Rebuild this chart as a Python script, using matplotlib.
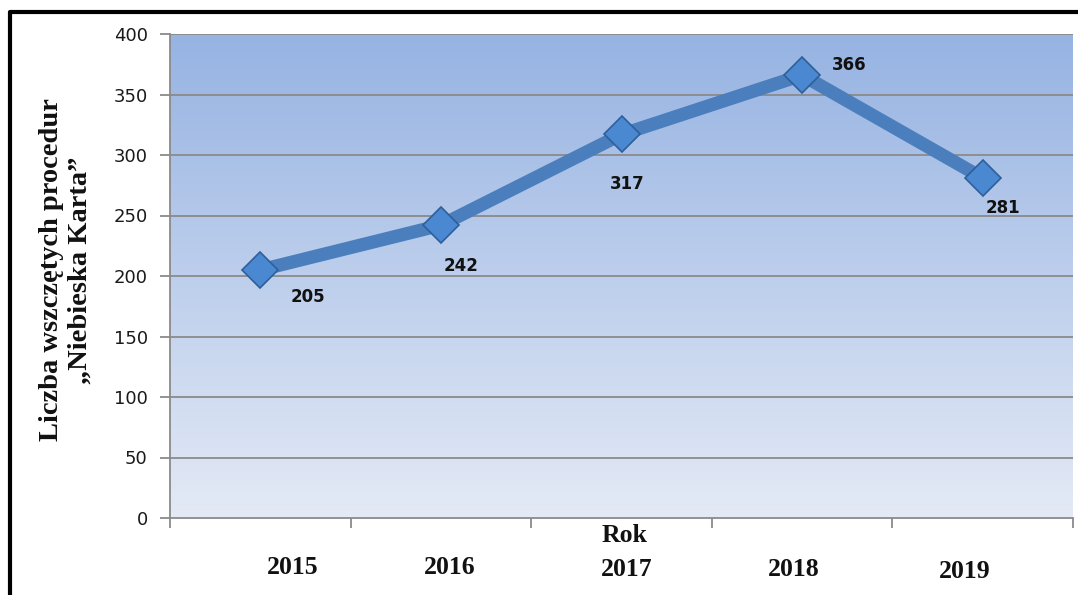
import numpy as np
import matplotlib
matplotlib.use("Agg")
import matplotlib.pyplot as plt
from matplotlib.lines import Line2D
from matplotlib.colors import LinearSegmentedColormap

years = ["2015", "2016", "2017", "2018", "2019"]
values = [205, 242, 317, 366, 281]
y_ticks = [0, 50, 100, 150, 200, 250, 300, 350, 400]
y_label = "Liczba wszczętych procedur\n„Niebieska Karta”"
x_label = "Rok"

# label offsets in pixels (style)
val_offsets = [(48, -27), (20, -41), (6, -50), (47, 10), (20, -30)]
year_offsets = [(32, 0), (9, 0), (5, -2), (-8, -2), (-18, -4)]

W, H, DPI = 1078, 595, 100
fig = plt.figure(figsize=(W / DPI, H / DPI), dpi=DPI)
fig.patch.set_facecolor("white")

L, R, T, B = 170, 1073, 34, 518
ax = fig.add_axes([L / W, 1 - B / H, (R - L) / W, (B - T) / H])

x = np.arange(len(years))
ax.set_xlim(-0.5, len(years) - 0.5)
ax.set_ylim(0, 400)

# gradient background
cmap = LinearSegmentedColormap.from_list("bg", ["#e4eaf6", "#96b3e2"])
grad = np.linspace(0, 1, 256).reshape(-1, 1)
ax.imshow(grad, aspect="auto", cmap=cmap, origin="lower",
          extent=[-0.5, len(years) - 0.5, 0, 400], zorder=0)

ax.set_yticks(y_ticks)
for yt in y_ticks[1:]:
    ax.axhline(yt, color="#8a8a8a", linewidth=1.3, zorder=1)

ax.plot(x, values, color="#4a7ebd", linewidth=9.5, zorder=3,
        solid_capstyle="round")
ax.plot(x, values, linestyle="none", marker="D", markersize=18,
        markerfacecolor="#4a88d2", markeredgecolor="#2f5f99",
        markeredgewidth=1.2, zorder=4)

for xi, v, (dx, dy) in zip(x, values, val_offsets):
    ax.annotate(str(v), (xi, v), xytext=(dx * 0.72, dy * 0.72),
                textcoords="offset points", ha="center", va="center",
                fontsize=12, fontweight="bold", color="#111111",
                family="DejaVu Sans", zorder=5)

for s in ["top", "right"]:
    ax.spines[s].set_visible(False)
for s in ["left", "bottom"]:
    ax.spines[s].set_color("#8a8a8a")
    ax.spines[s].set_linewidth(1.3)

ax.tick_params(axis="y", direction="out", length=7, width=1.3,
               color="#8a8a8a", labelsize=13, labelcolor="#1a1a1a", pad=9)
for lab in ax.get_yticklabels():
    lab.set_family("DejaVu Sans")

ax.set_xticks(np.arange(-0.5, len(years)), minor=False)
ax.set_xticklabels([])
ax.tick_params(axis="x", direction="out", length=7, width=1.3,
               color="#8a8a8a")

for xi, yr, (dx, dy) in zip(x, years, year_offsets):
    ax.annotate(yr, (xi, 0), xycoords=("data", "data"),
                xytext=(dx * 0.72, -50 * 0.72 + dy * 0.72),
                textcoords="offset points", ha="center", va="center",
                fontsize=18.5, fontweight="bold", family="Liberation Serif",
                color="#111111", annotation_clip=False)

fig.text(625 / W, 1 - 535 / H, x_label, ha="center", va="center",
         fontsize=18.5, fontweight="bold", family="Liberation Serif",
         color="#111111")

fig.text(66 / W, 1 - 270 / H, y_label, ha="center", va="center",
         rotation=90, fontsize=20.5, fontweight="bold",
         family="Liberation Serif", color="#111111", linespacing=1.2,
         multialignment="center")

# outer black frame (left and top)
fig.add_artist(Line2D([10 / W, 10 / W, 1.0], [0.0, 1 - 12 / H, 1 - 12 / H],
                      transform=fig.transFigure, color="black", linewidth=3))

fig.savefig("out.png", dpi=DPI)
